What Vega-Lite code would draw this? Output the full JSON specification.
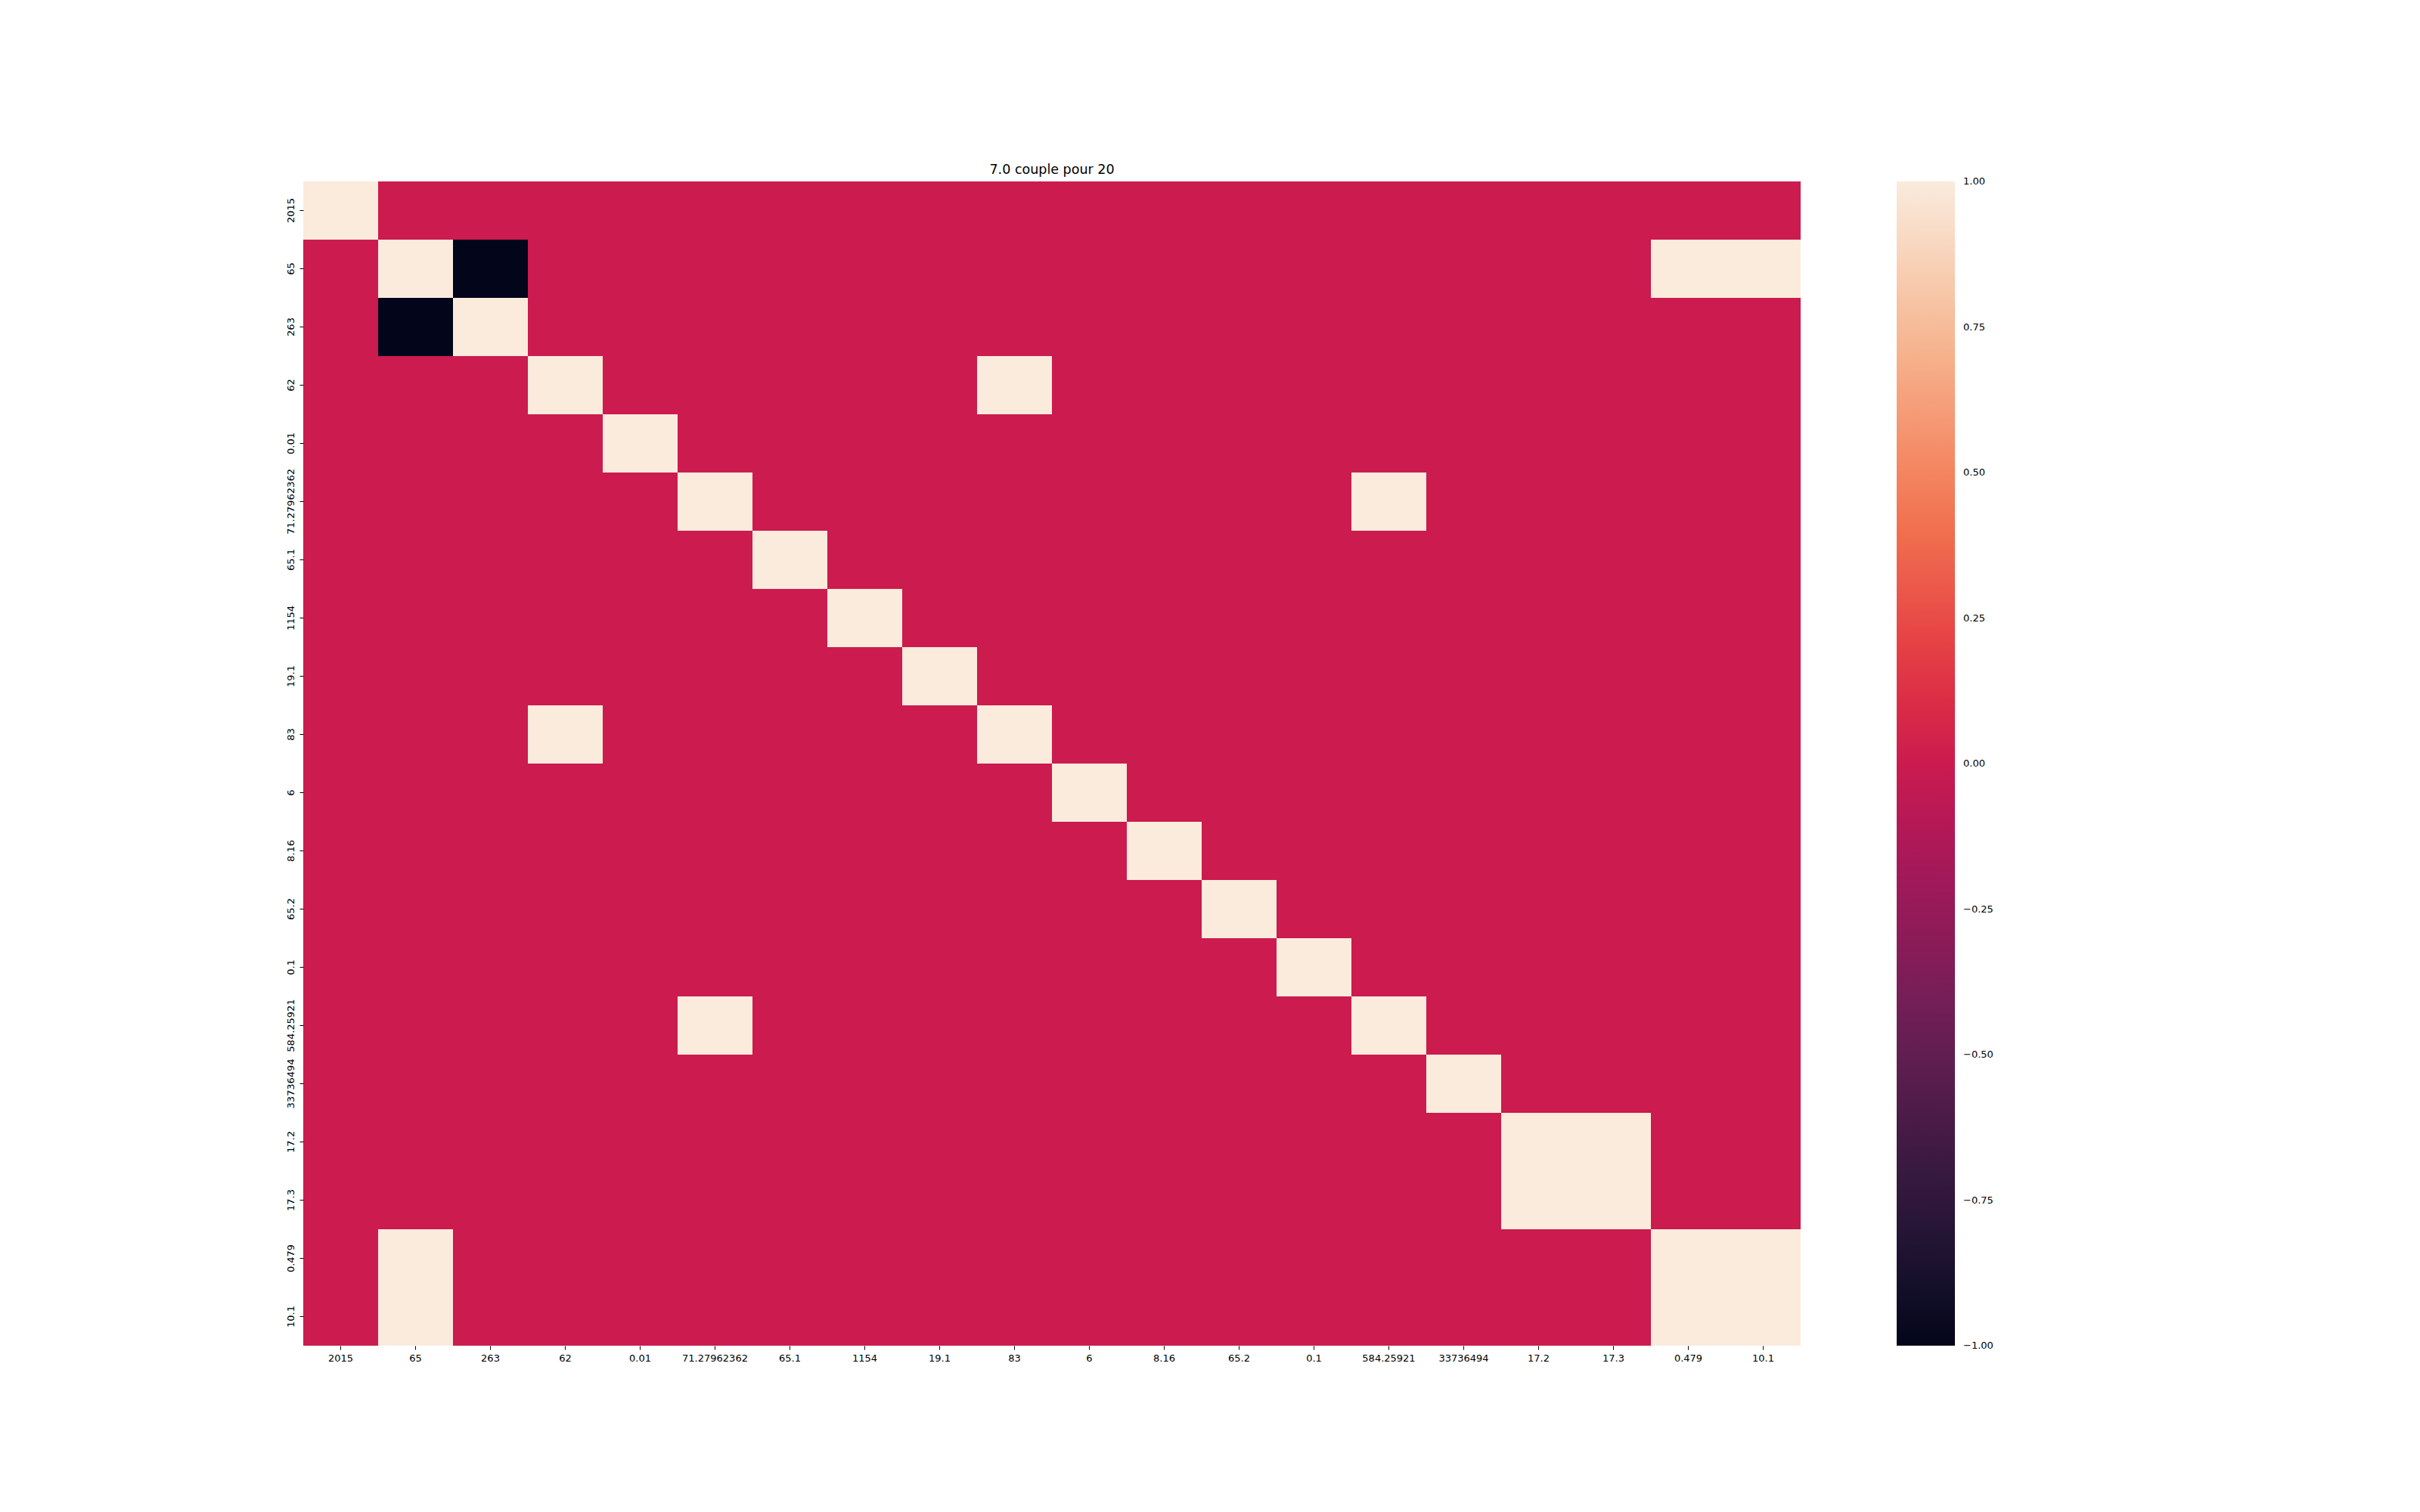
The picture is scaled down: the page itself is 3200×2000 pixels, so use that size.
{
  "$schema": "https://vega.github.io/schema/vega-lite/v6.json",
  "width": 1980,
  "height": 1540,
  "autosize": {"type": "none"},
  "padding": {"left": 401, "top": 240, "right": 819, "bottom": 220},
  "background": "white",
  "title": {"text": "7.0 couple pour 20", "fontSize": 17.5, "font": "DejaVu Sans", "fontWeight": "normal", "color": "black", "offset": 7, "anchor": "middle"},
  "data": {"values": [
    {"r":"2015","c":"2015","v":1},{"r":"2015","c":"65","v":0},{"r":"2015","c":"263","v":0},{"r":"2015","c":"62","v":0},{"r":"2015","c":"0.01","v":0},{"r":"2015","c":"71.27962362","v":0},{"r":"2015","c":"65.1","v":0},{"r":"2015","c":"1154","v":0},{"r":"2015","c":"19.1","v":0},{"r":"2015","c":"83","v":0},{"r":"2015","c":"6","v":0},{"r":"2015","c":"8.16","v":0},{"r":"2015","c":"65.2","v":0},{"r":"2015","c":"0.1","v":0},{"r":"2015","c":"584.25921","v":0},{"r":"2015","c":"33736494","v":0},{"r":"2015","c":"17.2","v":0},{"r":"2015","c":"17.3","v":0},{"r":"2015","c":"0.479","v":0},{"r":"2015","c":"10.1","v":0},
    {"r":"65","c":"2015","v":0},{"r":"65","c":"65","v":1},{"r":"65","c":"263","v":-1},{"r":"65","c":"62","v":0},{"r":"65","c":"0.01","v":0},{"r":"65","c":"71.27962362","v":0},{"r":"65","c":"65.1","v":0},{"r":"65","c":"1154","v":0},{"r":"65","c":"19.1","v":0},{"r":"65","c":"83","v":0},{"r":"65","c":"6","v":0},{"r":"65","c":"8.16","v":0},{"r":"65","c":"65.2","v":0},{"r":"65","c":"0.1","v":0},{"r":"65","c":"584.25921","v":0},{"r":"65","c":"33736494","v":0},{"r":"65","c":"17.2","v":0},{"r":"65","c":"17.3","v":0},{"r":"65","c":"0.479","v":1},{"r":"65","c":"10.1","v":1},
    {"r":"263","c":"2015","v":0},{"r":"263","c":"65","v":-1},{"r":"263","c":"263","v":1},{"r":"263","c":"62","v":0},{"r":"263","c":"0.01","v":0},{"r":"263","c":"71.27962362","v":0},{"r":"263","c":"65.1","v":0},{"r":"263","c":"1154","v":0},{"r":"263","c":"19.1","v":0},{"r":"263","c":"83","v":0},{"r":"263","c":"6","v":0},{"r":"263","c":"8.16","v":0},{"r":"263","c":"65.2","v":0},{"r":"263","c":"0.1","v":0},{"r":"263","c":"584.25921","v":0},{"r":"263","c":"33736494","v":0},{"r":"263","c":"17.2","v":0},{"r":"263","c":"17.3","v":0},{"r":"263","c":"0.479","v":0},{"r":"263","c":"10.1","v":0},
    {"r":"62","c":"2015","v":0},{"r":"62","c":"65","v":0},{"r":"62","c":"263","v":0},{"r":"62","c":"62","v":1},{"r":"62","c":"0.01","v":0},{"r":"62","c":"71.27962362","v":0},{"r":"62","c":"65.1","v":0},{"r":"62","c":"1154","v":0},{"r":"62","c":"19.1","v":0},{"r":"62","c":"83","v":1},{"r":"62","c":"6","v":0},{"r":"62","c":"8.16","v":0},{"r":"62","c":"65.2","v":0},{"r":"62","c":"0.1","v":0},{"r":"62","c":"584.25921","v":0},{"r":"62","c":"33736494","v":0},{"r":"62","c":"17.2","v":0},{"r":"62","c":"17.3","v":0},{"r":"62","c":"0.479","v":0},{"r":"62","c":"10.1","v":0},
    {"r":"0.01","c":"2015","v":0},{"r":"0.01","c":"65","v":0},{"r":"0.01","c":"263","v":0},{"r":"0.01","c":"62","v":0},{"r":"0.01","c":"0.01","v":1},{"r":"0.01","c":"71.27962362","v":0},{"r":"0.01","c":"65.1","v":0},{"r":"0.01","c":"1154","v":0},{"r":"0.01","c":"19.1","v":0},{"r":"0.01","c":"83","v":0},{"r":"0.01","c":"6","v":0},{"r":"0.01","c":"8.16","v":0},{"r":"0.01","c":"65.2","v":0},{"r":"0.01","c":"0.1","v":0},{"r":"0.01","c":"584.25921","v":0},{"r":"0.01","c":"33736494","v":0},{"r":"0.01","c":"17.2","v":0},{"r":"0.01","c":"17.3","v":0},{"r":"0.01","c":"0.479","v":0},{"r":"0.01","c":"10.1","v":0},
    {"r":"71.27962362","c":"2015","v":0},{"r":"71.27962362","c":"65","v":0},{"r":"71.27962362","c":"263","v":0},{"r":"71.27962362","c":"62","v":0},{"r":"71.27962362","c":"0.01","v":0},{"r":"71.27962362","c":"71.27962362","v":1},{"r":"71.27962362","c":"65.1","v":0},{"r":"71.27962362","c":"1154","v":0},{"r":"71.27962362","c":"19.1","v":0},{"r":"71.27962362","c":"83","v":0},{"r":"71.27962362","c":"6","v":0},{"r":"71.27962362","c":"8.16","v":0},{"r":"71.27962362","c":"65.2","v":0},{"r":"71.27962362","c":"0.1","v":0},{"r":"71.27962362","c":"584.25921","v":1},{"r":"71.27962362","c":"33736494","v":0},{"r":"71.27962362","c":"17.2","v":0},{"r":"71.27962362","c":"17.3","v":0},{"r":"71.27962362","c":"0.479","v":0},{"r":"71.27962362","c":"10.1","v":0},
    {"r":"65.1","c":"2015","v":0},{"r":"65.1","c":"65","v":0},{"r":"65.1","c":"263","v":0},{"r":"65.1","c":"62","v":0},{"r":"65.1","c":"0.01","v":0},{"r":"65.1","c":"71.27962362","v":0},{"r":"65.1","c":"65.1","v":1},{"r":"65.1","c":"1154","v":0},{"r":"65.1","c":"19.1","v":0},{"r":"65.1","c":"83","v":0},{"r":"65.1","c":"6","v":0},{"r":"65.1","c":"8.16","v":0},{"r":"65.1","c":"65.2","v":0},{"r":"65.1","c":"0.1","v":0},{"r":"65.1","c":"584.25921","v":0},{"r":"65.1","c":"33736494","v":0},{"r":"65.1","c":"17.2","v":0},{"r":"65.1","c":"17.3","v":0},{"r":"65.1","c":"0.479","v":0},{"r":"65.1","c":"10.1","v":0},
    {"r":"1154","c":"2015","v":0},{"r":"1154","c":"65","v":0},{"r":"1154","c":"263","v":0},{"r":"1154","c":"62","v":0},{"r":"1154","c":"0.01","v":0},{"r":"1154","c":"71.27962362","v":0},{"r":"1154","c":"65.1","v":0},{"r":"1154","c":"1154","v":1},{"r":"1154","c":"19.1","v":0},{"r":"1154","c":"83","v":0},{"r":"1154","c":"6","v":0},{"r":"1154","c":"8.16","v":0},{"r":"1154","c":"65.2","v":0},{"r":"1154","c":"0.1","v":0},{"r":"1154","c":"584.25921","v":0},{"r":"1154","c":"33736494","v":0},{"r":"1154","c":"17.2","v":0},{"r":"1154","c":"17.3","v":0},{"r":"1154","c":"0.479","v":0},{"r":"1154","c":"10.1","v":0},
    {"r":"19.1","c":"2015","v":0},{"r":"19.1","c":"65","v":0},{"r":"19.1","c":"263","v":0},{"r":"19.1","c":"62","v":0},{"r":"19.1","c":"0.01","v":0},{"r":"19.1","c":"71.27962362","v":0},{"r":"19.1","c":"65.1","v":0},{"r":"19.1","c":"1154","v":0},{"r":"19.1","c":"19.1","v":1},{"r":"19.1","c":"83","v":0},{"r":"19.1","c":"6","v":0},{"r":"19.1","c":"8.16","v":0},{"r":"19.1","c":"65.2","v":0},{"r":"19.1","c":"0.1","v":0},{"r":"19.1","c":"584.25921","v":0},{"r":"19.1","c":"33736494","v":0},{"r":"19.1","c":"17.2","v":0},{"r":"19.1","c":"17.3","v":0},{"r":"19.1","c":"0.479","v":0},{"r":"19.1","c":"10.1","v":0},
    {"r":"83","c":"2015","v":0},{"r":"83","c":"65","v":0},{"r":"83","c":"263","v":0},{"r":"83","c":"62","v":1},{"r":"83","c":"0.01","v":0},{"r":"83","c":"71.27962362","v":0},{"r":"83","c":"65.1","v":0},{"r":"83","c":"1154","v":0},{"r":"83","c":"19.1","v":0},{"r":"83","c":"83","v":1},{"r":"83","c":"6","v":0},{"r":"83","c":"8.16","v":0},{"r":"83","c":"65.2","v":0},{"r":"83","c":"0.1","v":0},{"r":"83","c":"584.25921","v":0},{"r":"83","c":"33736494","v":0},{"r":"83","c":"17.2","v":0},{"r":"83","c":"17.3","v":0},{"r":"83","c":"0.479","v":0},{"r":"83","c":"10.1","v":0},
    {"r":"6","c":"2015","v":0},{"r":"6","c":"65","v":0},{"r":"6","c":"263","v":0},{"r":"6","c":"62","v":0},{"r":"6","c":"0.01","v":0},{"r":"6","c":"71.27962362","v":0},{"r":"6","c":"65.1","v":0},{"r":"6","c":"1154","v":0},{"r":"6","c":"19.1","v":0},{"r":"6","c":"83","v":0},{"r":"6","c":"6","v":1},{"r":"6","c":"8.16","v":0},{"r":"6","c":"65.2","v":0},{"r":"6","c":"0.1","v":0},{"r":"6","c":"584.25921","v":0},{"r":"6","c":"33736494","v":0},{"r":"6","c":"17.2","v":0},{"r":"6","c":"17.3","v":0},{"r":"6","c":"0.479","v":0},{"r":"6","c":"10.1","v":0},
    {"r":"8.16","c":"2015","v":0},{"r":"8.16","c":"65","v":0},{"r":"8.16","c":"263","v":0},{"r":"8.16","c":"62","v":0},{"r":"8.16","c":"0.01","v":0},{"r":"8.16","c":"71.27962362","v":0},{"r":"8.16","c":"65.1","v":0},{"r":"8.16","c":"1154","v":0},{"r":"8.16","c":"19.1","v":0},{"r":"8.16","c":"83","v":0},{"r":"8.16","c":"6","v":0},{"r":"8.16","c":"8.16","v":1},{"r":"8.16","c":"65.2","v":0},{"r":"8.16","c":"0.1","v":0},{"r":"8.16","c":"584.25921","v":0},{"r":"8.16","c":"33736494","v":0},{"r":"8.16","c":"17.2","v":0},{"r":"8.16","c":"17.3","v":0},{"r":"8.16","c":"0.479","v":0},{"r":"8.16","c":"10.1","v":0},
    {"r":"65.2","c":"2015","v":0},{"r":"65.2","c":"65","v":0},{"r":"65.2","c":"263","v":0},{"r":"65.2","c":"62","v":0},{"r":"65.2","c":"0.01","v":0},{"r":"65.2","c":"71.27962362","v":0},{"r":"65.2","c":"65.1","v":0},{"r":"65.2","c":"1154","v":0},{"r":"65.2","c":"19.1","v":0},{"r":"65.2","c":"83","v":0},{"r":"65.2","c":"6","v":0},{"r":"65.2","c":"8.16","v":0},{"r":"65.2","c":"65.2","v":1},{"r":"65.2","c":"0.1","v":0},{"r":"65.2","c":"584.25921","v":0},{"r":"65.2","c":"33736494","v":0},{"r":"65.2","c":"17.2","v":0},{"r":"65.2","c":"17.3","v":0},{"r":"65.2","c":"0.479","v":0},{"r":"65.2","c":"10.1","v":0},
    {"r":"0.1","c":"2015","v":0},{"r":"0.1","c":"65","v":0},{"r":"0.1","c":"263","v":0},{"r":"0.1","c":"62","v":0},{"r":"0.1","c":"0.01","v":0},{"r":"0.1","c":"71.27962362","v":0},{"r":"0.1","c":"65.1","v":0},{"r":"0.1","c":"1154","v":0},{"r":"0.1","c":"19.1","v":0},{"r":"0.1","c":"83","v":0},{"r":"0.1","c":"6","v":0},{"r":"0.1","c":"8.16","v":0},{"r":"0.1","c":"65.2","v":0},{"r":"0.1","c":"0.1","v":1},{"r":"0.1","c":"584.25921","v":0},{"r":"0.1","c":"33736494","v":0},{"r":"0.1","c":"17.2","v":0},{"r":"0.1","c":"17.3","v":0},{"r":"0.1","c":"0.479","v":0},{"r":"0.1","c":"10.1","v":0},
    {"r":"584.25921","c":"2015","v":0},{"r":"584.25921","c":"65","v":0},{"r":"584.25921","c":"263","v":0},{"r":"584.25921","c":"62","v":0},{"r":"584.25921","c":"0.01","v":0},{"r":"584.25921","c":"71.27962362","v":1},{"r":"584.25921","c":"65.1","v":0},{"r":"584.25921","c":"1154","v":0},{"r":"584.25921","c":"19.1","v":0},{"r":"584.25921","c":"83","v":0},{"r":"584.25921","c":"6","v":0},{"r":"584.25921","c":"8.16","v":0},{"r":"584.25921","c":"65.2","v":0},{"r":"584.25921","c":"0.1","v":0},{"r":"584.25921","c":"584.25921","v":1},{"r":"584.25921","c":"33736494","v":0},{"r":"584.25921","c":"17.2","v":0},{"r":"584.25921","c":"17.3","v":0},{"r":"584.25921","c":"0.479","v":0},{"r":"584.25921","c":"10.1","v":0},
    {"r":"33736494","c":"2015","v":0},{"r":"33736494","c":"65","v":0},{"r":"33736494","c":"263","v":0},{"r":"33736494","c":"62","v":0},{"r":"33736494","c":"0.01","v":0},{"r":"33736494","c":"71.27962362","v":0},{"r":"33736494","c":"65.1","v":0},{"r":"33736494","c":"1154","v":0},{"r":"33736494","c":"19.1","v":0},{"r":"33736494","c":"83","v":0},{"r":"33736494","c":"6","v":0},{"r":"33736494","c":"8.16","v":0},{"r":"33736494","c":"65.2","v":0},{"r":"33736494","c":"0.1","v":0},{"r":"33736494","c":"584.25921","v":0},{"r":"33736494","c":"33736494","v":1},{"r":"33736494","c":"17.2","v":0},{"r":"33736494","c":"17.3","v":0},{"r":"33736494","c":"0.479","v":0},{"r":"33736494","c":"10.1","v":0},
    {"r":"17.2","c":"2015","v":0},{"r":"17.2","c":"65","v":0},{"r":"17.2","c":"263","v":0},{"r":"17.2","c":"62","v":0},{"r":"17.2","c":"0.01","v":0},{"r":"17.2","c":"71.27962362","v":0},{"r":"17.2","c":"65.1","v":0},{"r":"17.2","c":"1154","v":0},{"r":"17.2","c":"19.1","v":0},{"r":"17.2","c":"83","v":0},{"r":"17.2","c":"6","v":0},{"r":"17.2","c":"8.16","v":0},{"r":"17.2","c":"65.2","v":0},{"r":"17.2","c":"0.1","v":0},{"r":"17.2","c":"584.25921","v":0},{"r":"17.2","c":"33736494","v":0},{"r":"17.2","c":"17.2","v":1},{"r":"17.2","c":"17.3","v":1},{"r":"17.2","c":"0.479","v":0},{"r":"17.2","c":"10.1","v":0},
    {"r":"17.3","c":"2015","v":0},{"r":"17.3","c":"65","v":0},{"r":"17.3","c":"263","v":0},{"r":"17.3","c":"62","v":0},{"r":"17.3","c":"0.01","v":0},{"r":"17.3","c":"71.27962362","v":0},{"r":"17.3","c":"65.1","v":0},{"r":"17.3","c":"1154","v":0},{"r":"17.3","c":"19.1","v":0},{"r":"17.3","c":"83","v":0},{"r":"17.3","c":"6","v":0},{"r":"17.3","c":"8.16","v":0},{"r":"17.3","c":"65.2","v":0},{"r":"17.3","c":"0.1","v":0},{"r":"17.3","c":"584.25921","v":0},{"r":"17.3","c":"33736494","v":0},{"r":"17.3","c":"17.2","v":1},{"r":"17.3","c":"17.3","v":1},{"r":"17.3","c":"0.479","v":0},{"r":"17.3","c":"10.1","v":0},
    {"r":"0.479","c":"2015","v":0},{"r":"0.479","c":"65","v":1},{"r":"0.479","c":"263","v":0},{"r":"0.479","c":"62","v":0},{"r":"0.479","c":"0.01","v":0},{"r":"0.479","c":"71.27962362","v":0},{"r":"0.479","c":"65.1","v":0},{"r":"0.479","c":"1154","v":0},{"r":"0.479","c":"19.1","v":0},{"r":"0.479","c":"83","v":0},{"r":"0.479","c":"6","v":0},{"r":"0.479","c":"8.16","v":0},{"r":"0.479","c":"65.2","v":0},{"r":"0.479","c":"0.1","v":0},{"r":"0.479","c":"584.25921","v":0},{"r":"0.479","c":"33736494","v":0},{"r":"0.479","c":"17.2","v":0},{"r":"0.479","c":"17.3","v":0},{"r":"0.479","c":"0.479","v":1},{"r":"0.479","c":"10.1","v":1},
    {"r":"10.1","c":"2015","v":0},{"r":"10.1","c":"65","v":1},{"r":"10.1","c":"263","v":0},{"r":"10.1","c":"62","v":0},{"r":"10.1","c":"0.01","v":0},{"r":"10.1","c":"71.27962362","v":0},{"r":"10.1","c":"65.1","v":0},{"r":"10.1","c":"1154","v":0},{"r":"10.1","c":"19.1","v":0},{"r":"10.1","c":"83","v":0},{"r":"10.1","c":"6","v":0},{"r":"10.1","c":"8.16","v":0},{"r":"10.1","c":"65.2","v":0},{"r":"10.1","c":"0.1","v":0},{"r":"10.1","c":"584.25921","v":0},{"r":"10.1","c":"33736494","v":0},{"r":"10.1","c":"17.2","v":0},{"r":"10.1","c":"17.3","v":0},{"r":"10.1","c":"0.479","v":1},{"r":"10.1","c":"10.1","v":1}
  ]},
  "mark": {"type": "rect", "strokeWidth": 0},
  "encoding": {
    "x": {
      "field": "c", "type": "nominal", "sort": null,
      "scale": {"paddingInner": 0, "paddingOuter": 0},
      "axis": {"title": null, "labelAngle": 0, "domain": false, "ticks": true, "tickSize": 5, "tickWidth": 1, "tickColor": "black", "labelPadding": 5, "labelFontSize": 13, "labelFont": "DejaVu Sans", "labelColor": "black", "grid": false, "labelOverlap": false}
    },
    "y": {
      "field": "r", "type": "nominal", "sort": null,
      "scale": {"paddingInner": 0, "paddingOuter": 0},
      "axis": {"title": null, "labelAngle": -90, "labelAlign": "center", "labelBaseline": "bottom", "domain": false, "ticks": true, "tickSize": 5, "tickWidth": 1, "tickColor": "black", "labelPadding": 5, "labelFontSize": 13, "labelFont": "DejaVu Sans", "labelColor": "black", "grid": false, "labelOverlap": false}
    },
    "color": {
      "field": "v", "type": "quantitative",
      "scale": {
        "type": "linear",
        "domain": [-1, -0.857, -0.714, -0.429, -0.143, 0, 0.143, 0.429, 0.714, 1],
        "range": ["#03051a", "#1c1330", "#35193e", "#701f57", "#ad1759", "#cb1b4f", "#e13342", "#f37651", "#f6b48f", "#faebdd"],
        "interpolate": "rgb"
      },
      "legend": {
        "title": null, "orient": "none", "legendX": 2107, "legendY": 0,
        "direction": "vertical", "gradientLength": 1540, "gradientThickness": 77,
        "gradientStrokeWidth": 0,
        "values": [-1, -0.75, -0.5, -0.25, 0, 0.25, 0.5, 0.75, 1],
        "format": ".2f", "labelFontSize": 13, "labelFont": "DejaVu Sans", "labelColor": "black",
        "labelOffset": 11, "labelBaseline": "middle", "labelOverlap": false,
        "encode": {"labels": {"update": {"baseline": {"value": "middle"}}}}
      }
    }
  },
  "config": {"view": {"stroke": null}}
}
